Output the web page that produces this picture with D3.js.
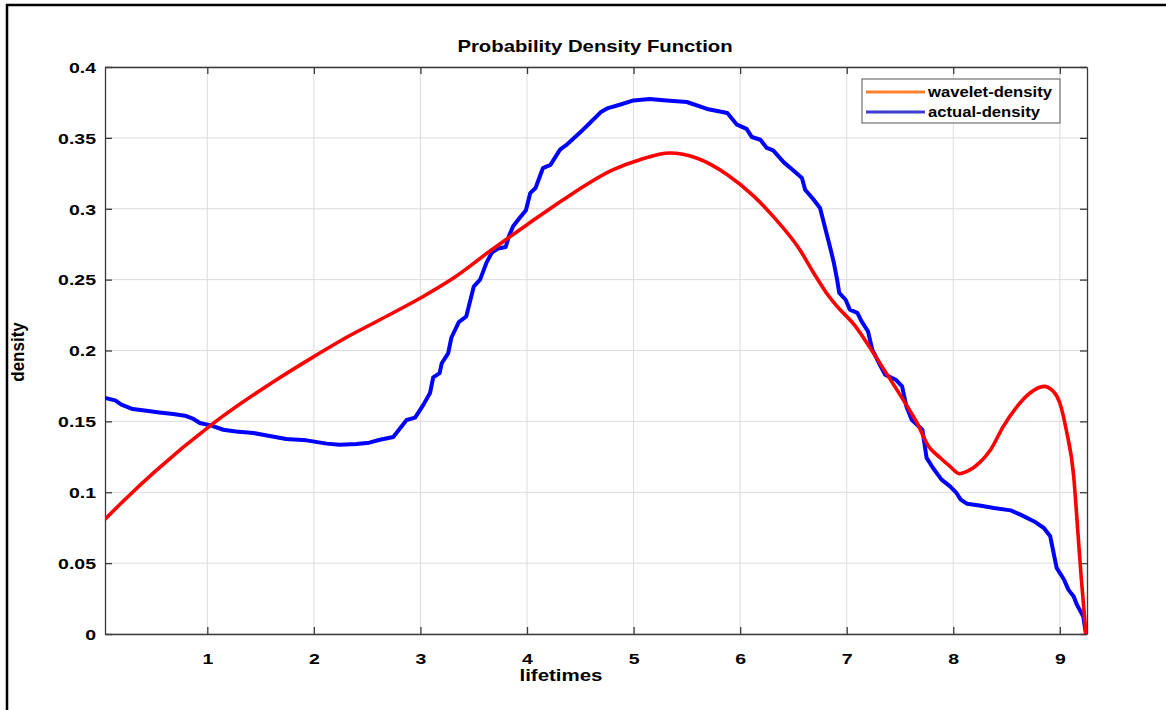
<!DOCTYPE html>
<html><head><meta charset="utf-8">
<script src="https://cdn.jsdelivr.net/npm/d3@7"></script>
<style>
html,body{margin:0;padding:0;background:#fff;}
text{font-family:"Liberation Sans",Arial,sans-serif;font-weight:bold;fill:#000;}
</style></head>
<body>
<svg id="chart" width="1166" height="710"></svg>
<script>
const title = "Probability Density Function";
const xLabel = "lifetimes";
const yLabel = "density";
const seriesNames = ["wavelet-density", "actual-density"];
const xTicks = [1,2,3,4,5,6,7,8,9];
const yTicks = [0,0.05,0.1,0.15,0.2,0.25,0.3,0.35,0.4];
const yTickLabels = ["0","0.05","0.1","0.15","0.2","0.25","0.3","0.35","0.4"];

const waveletX = [0.04,0.225,0.5,1.04,1.65,2.0,2.3,2.62,3.0,3.31,3.65,4.0,4.34,4.81,5.06,5.34,5.59,5.88,6.13,6.31,6.56,6.69,6.81,6.91,7.07,7.19,7.35,7.51,7.66,7.77,7.88,7.97,8.06,8.13,8.26,8.35,8.47,8.6,8.72,8.85,8.94,9.0,9.06,9.13,9.17,9.2,9.245];
const waveletY = [0.081,0.0947,0.114,0.1477,0.1794,0.1957,0.209,0.2217,0.237,0.2511,0.27,0.2887,0.3064,0.3276,0.3346,0.3393,0.3358,0.324,0.3087,0.2946,0.2711,0.2547,0.2406,0.2311,0.2182,0.2053,0.1865,0.1676,0.1489,0.1323,0.1242,0.1182,0.1131,0.1147,0.1218,0.13,0.1465,0.1606,0.17,0.1747,0.1711,0.163,0.1441,0.1112,0.0713,0.0406,0.0];

const actualX = [0.04,0.136,0.194,0.30,0.43,0.55,0.68,0.79,0.87,0.93,1.04,1.15,1.27,1.43,1.56,1.74,1.93,1.99,2.12,2.24,2.40,2.52,2.62,2.745,2.87,2.95,3.03,3.09,3.12,3.18,3.2,3.26,3.29,3.36,3.43,3.5,3.56,3.62,3.67,3.73,3.80,3.83,3.87,3.93,3.99,4.03,4.08,4.15,4.22,4.31,4.37,4.5,4.59,4.69,4.76,4.87,5.0,5.15,5.31,5.50,5.69,5.88,5.97,6.06,6.11,6.19,6.25,6.31,6.41,6.50,6.58,6.61,6.69,6.75,6.85,6.88,6.91,6.93,6.99,7.03,7.10,7.14,7.20,7.24,7.31,7.36,7.46,7.52,7.56,7.61,7.71,7.75,7.81,7.89,7.97,8.03,8.07,8.13,8.26,8.38,8.54,8.63,8.76,8.85,8.91,8.97,9.04,9.08,9.13,9.16,9.22,9.245];
const actualY = [0.1665,0.1648,0.1618,0.1587,0.1575,0.1563,0.1552,0.154,0.1517,0.1489,0.147,0.1441,0.1429,0.1418,0.1401,0.1376,0.1366,0.1359,0.1343,0.1335,0.134,0.135,0.137,0.139,0.151,0.1526,0.162,0.170,0.181,0.184,0.191,0.198,0.209,0.220,0.224,0.245,0.250,0.262,0.269,0.272,0.273,0.2805,0.2876,0.2935,0.299,0.311,0.3146,0.3287,0.331,0.3417,0.345,0.3539,0.3605,0.368,0.371,0.3734,0.3764,0.3774,0.3764,0.3753,0.3704,0.3675,0.3593,0.3563,0.3506,0.3487,0.3429,0.3412,0.3327,0.327,0.3217,0.3134,0.3064,0.3005,0.271,0.2617,0.25,0.2406,0.2358,0.2288,0.2265,0.2205,0.2135,0.2006,0.19,0.183,0.1794,0.1747,0.1606,0.1512,0.1441,0.1242,0.1171,0.1089,0.1041,0.0995,0.0948,0.0919,0.0905,0.0889,0.0872,0.0842,0.0794,0.0748,0.0689,0.0466,0.0383,0.0313,0.0265,0.0207,0.0124,0.0];

const svg = d3.select("#chart");
const L = 105, R = 1087, T = 67, B = 634;
const x = d3.scaleLinear().domain([0.04, 9.255]).range([L, R]);
const y = d3.scaleLinear().domain([0, 0.4]).range([B, T]);
const SX = 1.3; // horizontal stretch of the reference's text

// figure frame
svg.append("rect").attr("x",7).attr("y",5).attr("width",1250).attr("height",800)
  .attr("fill","none").attr("stroke","#000").attr("stroke-width",2.5);

// grid
const grid = svg.append("g");
xTicks.forEach(t => grid.append("line").attr("x1",x(t)).attr("x2",x(t)).attr("y1",T).attr("y2",B)
  .attr("stroke","#dcdcdc").attr("stroke-width",1));
yTicks.forEach(t => grid.append("line").attr("x1",L).attr("x2",R).attr("y1",y(t)).attr("y2",y(t))
  .attr("stroke","#dcdcdc").attr("stroke-width",1));

// axes (inward ticks on all sides)
const axColor = "#3a3a3a";
const fmtY = d => yTickLabels[yTicks.indexOf(d)];
const gB = svg.append("g").attr("transform",`translate(0,${B})`)
  .call(d3.axisBottom(x).tickValues(xTicks).tickSizeInner(-7).tickSizeOuter(0).tickPadding(18).tickFormat(d3.format("d")));
const gT = svg.append("g").attr("transform",`translate(0,${T})`)
  .call(d3.axisTop(x).tickValues(xTicks).tickSizeInner(-7).tickSizeOuter(0).tickFormat(""));
const gL = svg.append("g").attr("transform",`translate(${L},0)`)
  .call(d3.axisLeft(y).tickValues(yTicks).tickSizeInner(-7).tickSizeOuter(0).tickFormat(fmtY));
const gR = svg.append("g").attr("transform",`translate(${R},0)`)
  .call(d3.axisRight(y).tickValues(yTicks).tickSizeInner(-7).tickSizeOuter(0).tickFormat(""));
[gB,gT,gL,gR].forEach(g => {
  g.select(".domain").attr("stroke",axColor).attr("stroke-width",1.3);
  g.selectAll(".tick line").attr("stroke",axColor).attr("stroke-width",1.3);
  g.selectAll(".tick text").attr("font-size",15).attr("font-weight","bold")
    .attr("font-family","Liberation Sans, Arial, sans-serif").attr("fill","#000");
});
gB.selectAll(".tick text").attr("y",0).attr("dy",0)
  .attr("transform",`translate(0,30) scale(${SX},1)`);
gL.selectAll(".tick text").attr("x",0).attr("dy","0.35em")
  .attr("transform",`translate(-9,0) scale(${SX},1)`);

// lines
svg.append("clipPath").attr("id","clip").append("rect")
  .attr("x",L).attr("y",T-5).attr("width",R-L+3).attr("height",B-T+8);
const wavelet = waveletX.map((v,i)=>[v,waveletY[i]]);
const actual = actualX.map((v,i)=>[v,actualY[i]]);
const lineSmooth = d3.line().x(d=>x(d[0])).y(d=>y(d[1])).curve(d3.curveMonotoneX);
const lineLin = d3.line().x(d=>x(d[0])).y(d=>y(d[1])).curve(d3.curveLinear);
const plot = svg.append("g").attr("clip-path","url(#clip)");
plot.append("path").attr("d",lineLin(actual)).attr("fill","none")
  .attr("stroke","#0000ff").attr("stroke-width",4).attr("stroke-linejoin","round");
plot.append("path").attr("d",lineSmooth(wavelet)).attr("fill","none")
  .attr("stroke","#ff0000").attr("stroke-width",3.6).attr("stroke-linejoin","round");

// title and labels
svg.append("text").attr("transform",`translate(595,52) scale(1.27,1)`).attr("text-anchor","middle")
  .attr("font-size",16).text(title);
svg.append("text").attr("transform",`translate(561,681) scale(1.28,1)`).attr("text-anchor","middle")
  .attr("font-size",16).text(xLabel);
svg.append("text").attr("transform","translate(24,352) rotate(-90) scale(1,1.05)").attr("text-anchor","middle")
  .attr("font-size",17).text(yLabel);

// legend
const lg = svg.append("g");
lg.append("rect").attr("x",862).attr("y",79).attr("width",198).attr("height",44)
  .attr("fill","#fff").attr("stroke","#555").attr("stroke-width",1);
const legColors = ["#ff7f2a","#3c3cd0"];
seriesNames.forEach((n,i)=>{
  const yy = 92 + i*20;
  lg.append("line").attr("x1",866).attr("x2",925).attr("y1",yy).attr("y2",yy)
    .attr("stroke",legColors[i]).attr("stroke-width",3);
  lg.append("text").attr("transform",`translate(928,${yy+5}) scale(1.19,1)`)
    .attr("font-size",14).text(n);
});
</script>
</body></html>
